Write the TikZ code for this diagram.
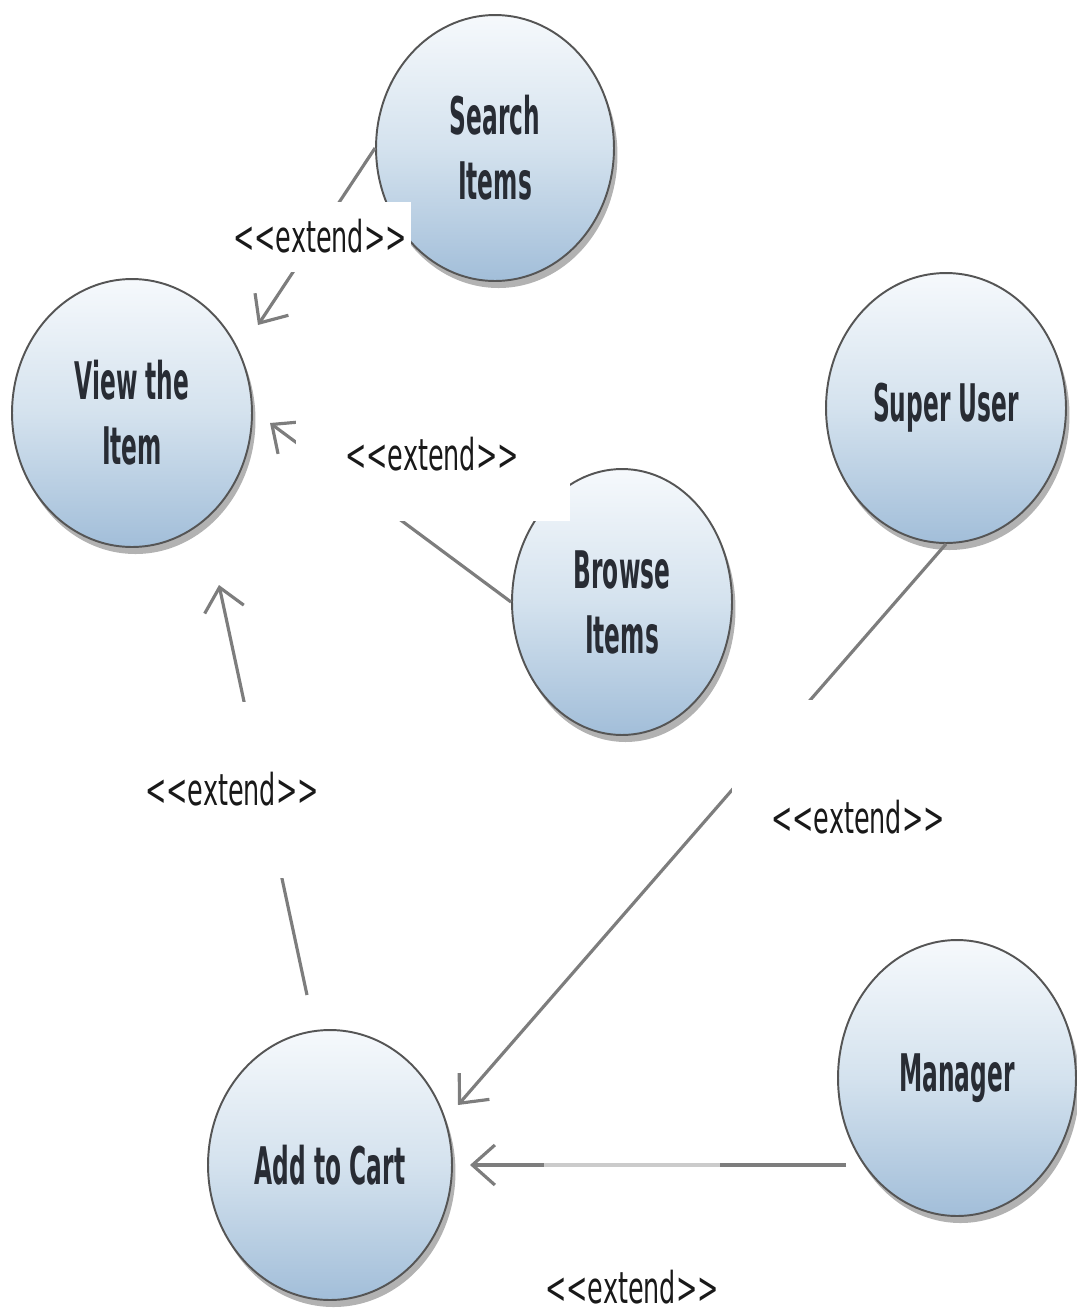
\documentclass[tikz,border=0pt]{standalone}
\usepackage{fontspec}
\setmainfont{DejaVu Sans}
\newfontfamily\ucnodefont{DejaVu Sans}[FakeStretch=0.45,Ligatures=TeXOff]
\newfontfamily\uclabfont{DejaVu Sans}[FakeStretch=0.58,Ligatures=TeXOff]
\usetikzlibrary{shapes.geometric,arrows.meta,shadows}
\definecolor{ucTop}{RGB}{246,249,252}
\definecolor{ucMid}{RGB}{212,226,238}
\definecolor{ucBot}{RGB}{162,190,217}
\definecolor{ucBorder}{RGB}{85,85,85}
\definecolor{ucText}{RGB}{40,44,52}
\definecolor{ucLine}{RGB}{125,125,125}
\tikzset{
  usecase/.style={ellipse, draw=ucBorder, line width=1.1pt,
    top color=ucTop, bottom color=ucBot, middle color=ucMid,
    inner sep=0pt, align=center, text=ucText,
    font=\ucnodefont\bfseries\fontsize{29.5}{37}\selectfont,
    drop shadow={shadow xshift=2pt, shadow yshift=-4pt, opacity=0.3, fill=black}},
  conn/.style={draw=ucLine, line width=1.8pt,
    -{Straight Barb[length=0.45cm, width=0.8cm, line width=1.8pt]}},
  stereo/.style={font=\uclabfont\fontsize{25}{30}\selectfont, text=black!90,
    inner sep=0pt, anchor=base},
  mask/.style={fill=white, draw=none},
}
\begin{document}
\begin{tikzpicture}[x=0.02cm, y=-0.02cm]
\useasboundingbox (0,0) rectangle (1077,1313);
% use cases
\node[usecase, minimum width=4.76cm, minimum height=5.32cm] (search) at (495,148) {Search\\Items};
\node[usecase, minimum width=4.8cm, minimum height=5.36cm] (view) at (132,413) {View the\\Item};
\node[usecase, minimum width=4.8cm, minimum height=5.4cm] (super) at (946,408) {Super User};
\node[usecase, minimum width=4.4cm, minimum height=5.32cm] (browse) at (622,602) {Browse\\Items};
\node[usecase, minimum width=4.88cm, minimum height=5.4cm] (add) at (330,1165) {Add to Cart};
\node[usecase, minimum width=4.76cm, minimum height=5.52cm] (manager) at (957,1078) {Manager};
% connector end points
\coordinate (t1) at (258,325);
\coordinate (t2) at (270,423);
\coordinate (s3) at (307,995);
\coordinate (t3) at (219,585);
\coordinate (t4) at (458,1105);
\coordinate (s5) at (846,1165);
\coordinate (t5) at (470,1165);
% connectors
\draw[conn] (search.west) -- (t1);
\draw[conn] (browse.west) -- (t2);
\draw[conn] (s3) -- (t3);
\draw[conn] (super.south) -- (t4);
\draw[conn] (s5) -- (t5);
% label backgrounds
\fill[mask] (222,202) rectangle (411,272);
\fill[mask] (296,400) rectangle (570,521);
\fill[mask] (140,702) rectangle (330,878);
\fill[mask] (732,700) rectangle (1000,870);
\fill[mask, opacity=0.6] (544,1158) rectangle (720,1172);
% labels
\node[stereo] (e1) at (320,252) {<\kern0pt<extend>\kern0pt>};
\node[stereo] (e2) at (432,470) {<\kern0pt<extend>\kern0pt>};
\node[stereo] (e3) at (232,805) {<\kern0pt<extend>\kern0pt>};
\node[stereo] (e4) at (858,833) {<\kern0pt<extend>\kern0pt>};
\node[stereo] (e5) at (632,1303) {<\kern0pt<extend>\kern0pt>};
\end{tikzpicture}
\end{document}
